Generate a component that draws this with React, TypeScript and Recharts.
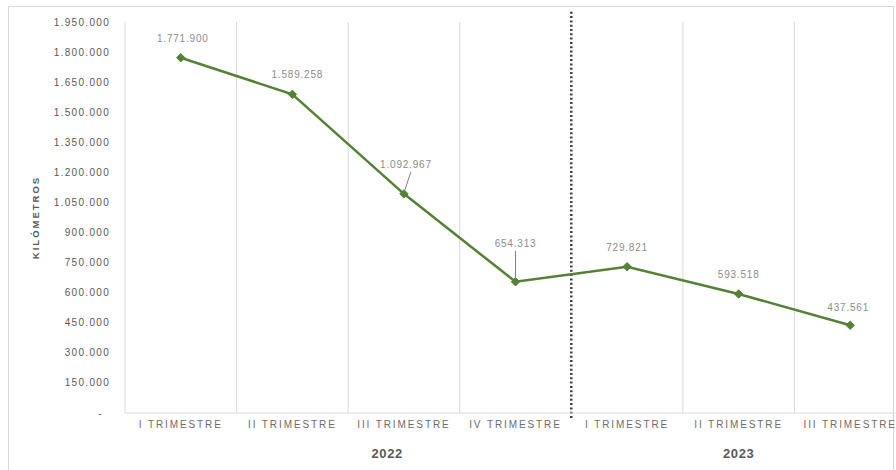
import React from 'react';
import {
  LineChart,
  Line,
  XAxis,
  YAxis,
  ReferenceLine,
  LabelList,
} from 'recharts';

// quarterly kilometres, 2022 -> 2023
const quarters = [
  'I TRIMESTRE',
  'II TRIMESTRE',
  'III TRIMESTRE',
  'IV TRIMESTRE',
  'I TRIMESTRE',
  'II TRIMESTRE',
  'III TRIMESTRE',
];
const kilometers = [1771900, 1589258, 1092967, 654313, 729821, 593518, 437561];

const years = ['2022', '2023'];
const yearAt = [1.85, 5];

const yTicks = [
  0, 150000, 300000, 450000, 600000, 750000, 900000, 1050000, 1200000,
  1350000, 1500000, 1650000, 1800000, 1950000,
];

const data = kilometers.map((km, idx) => ({ idx, km }));

const GREEN = '#548235';
const GRID = '#d9d9d9';
const TEXT = '#595959';
const FONT = '"Liberation Sans", Arial, sans-serif';

const fmt = (n: number) => String(n).replace(/\B(?=(\d{3})+(?!\d))/g, '.');

// label placement relative to each point (style only)
const labelShift = [
  { dx: 2, dy: -19, leader: false },
  { dx: 5, dy: -20, leader: false },
  { dx: 2, dy: -29, leader: true },
  { dx: 0, dy: -38, leader: true },
  { dx: 0, dy: -19, leader: false },
  { dx: 0, dy: -19, leader: false },
  { dx: -2, dy: -18, leader: false },
];

const Diamond = (props: any) => {
  const { cx, cy } = props;
  if (cx == null || cy == null) return null;
  const r = 4.2;
  return (
    <polygon
      points={`${cx},${cy - r} ${cx + r},${cy} ${cx},${cy + r} ${cx - r},${cy}`}
      fill={GREEN}
      stroke={GREEN}
      strokeWidth={1}
    />
  );
};

const PointLabel = (props: any) => {
  const { x, y, value, index } = props;
  const s = labelShift[index] || { dx: 0, dy: -19, leader: false };
  const lx = x + s.dx;
  const ly = y + s.dy;
  return (
    <g>
      {s.leader && (
        <line
          x1={index === 2 ? x + 7 : x}
          y1={ly + 7}
          x2={index === 2 ? x + 1 : x}
          y2={y - 4}
          stroke="#7f7f7f"
          strokeWidth={1}
        />
      )}
      <text
        x={lx}
        y={ly + 3.5}
        textAnchor="middle"
        fontSize={10}
        fontFamily={FONT}
        letterSpacing={0.8}
        fill="#8c8c8c"
      >
        {fmt(value)}
      </text>
    </g>
  );
};

const YTick = (props: any) => {
  const { x, y, payload } = props;
  const v = payload.value;
  return (
    <text
      x={v === 0 ? x - 7 : x}
      y={y + 3.5}
      textAnchor="end"
      fontSize={10}
      fontFamily={FONT}
      letterSpacing={1.3}
      fill={TEXT}
    >
      {v === 0 ? '-' : fmt(v)}
    </text>
  );
};

const QuarterTick = (props: any) => {
  const { x, y, payload } = props;
  return (
    <text
      x={x}
      y={y + 7}
      textAnchor="middle"
      fontSize={10}
      fontFamily={FONT}
      letterSpacing={1.9}
      fill="#6b6b6b"
    >
      {quarters[payload.value]}
    </text>
  );
};

const YearTick = (props: any) => {
  const { x, y, payload } = props;
  const i = yearAt.indexOf(payload.value);
  return (
    <text
      x={x}
      y={y + 9}
      textAnchor="middle"
      fontSize={13}
      fontWeight={600}
      fontFamily={FONT}
      letterSpacing={0.6}
      fill={TEXT}
    >
      {years[i]}
    </text>
  );
};

export default function App() {
  return (
    <div
      style={{
        position: 'absolute',
        left: 0,
        top: 0,
        width: 896,
        height: 470,
        overflow: 'hidden',
        background: '#fff',
      }}
    >
      <div
        style={{
          position: 'absolute',
          left: 8,
          top: 6,
          width: 884,
          height: 480,
          border: `1px solid ${GRID}`,
        }}
      />
      <div style={{ position: 'absolute', left: 0, top: 0 }}>
        <LineChart
          width={906}
          height={470}
          data={data}
          margin={{ top: 22, right: 0, bottom: 0, left: 0 }}
        >
          <XAxis
            dataKey="idx"
            type="number"
            domain={[-0.5, 6.5]}
            ticks={[0, 1, 2, 3, 4, 5, 6]}
            interval={0}
            height={28}
            tickLine={false}
            axisLine={{ stroke: GRID }}
            tick={<QuarterTick />}
          />
          <XAxis
            xAxisId="year"
            dataKey="idx"
            type="number"
            domain={[-0.5, 6.5]}
            ticks={yearAt}
            interval={0}
            height={29}
            tickLine={false}
            axisLine={false}
            tick={<YearTick />}
          />
          <YAxis
            width={125}
            domain={[0, 1950000]}
            ticks={yTicks}
            interval={0}
            tickLine={false}
            tickMargin={9}
            axisLine={{ stroke: GRID }}
            tick={<YTick />}
            label={{
              value: 'KILÓMETROS',
              angle: -90,
              position: 'insideLeft',
              offset: 36,
              fontSize: 9.5,
              fontWeight: 600,
              fill: TEXT,
              fontFamily: FONT,
              letterSpacing: 2,
              style: { textAnchor: 'middle' },
            }}
          />
          {[0.5, 1.5, 2.5, 4.5, 5.5, 6.5].map((b) => (
            <ReferenceLine key={b} x={b} stroke={GRID} strokeWidth={1} />
          ))}
          <ReferenceLine
            segment={[
              { x: 3.5, y: -25000 },
              { x: 3.5, y: 2010000 },
            ]}
            ifOverflow="visible"
            stroke="#404040"
            strokeWidth={2.5}
            strokeDasharray="2 2.3"
          />
          <Line
            dataKey="km"
            stroke={GREEN}
            strokeWidth={2.5}
            dot={<Diamond />}
            activeDot={false}
            isAnimationActive={false}
          >
            <LabelList dataKey="km" content={<PointLabel />} />
          </Line>
        </LineChart>
      </div>
    </div>
  );
}
